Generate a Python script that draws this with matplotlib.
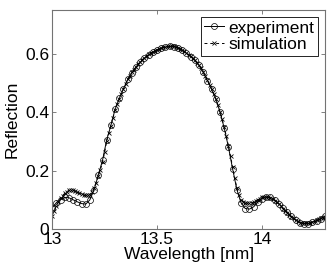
import matplotlib
matplotlib.use('Agg')
import matplotlib.pyplot as plt
import numpy as np

plt.rcParams['font.family'] = ['Liberation Sans', 'DejaVu Sans']

# 実験値 (0.02 nm 刻み)
wl_exp = np.round(np.arange(13.00, 14.301, 0.02), 2)
experiment = [
    0.072, 0.090, 0.100, 0.108, 0.107, 0.100, 0.093, 0.087, 0.085, 0.100,
    0.135, 0.185, 0.235, 0.305, 0.355, 0.410, 0.447, 0.480, 0.512, 0.535,
    0.555, 0.572, 0.586, 0.597, 0.606, 0.613, 0.619, 0.623, 0.625, 0.624,
    0.620, 0.612, 0.602, 0.590, 0.577, 0.560, 0.537, 0.508, 0.478, 0.445,
    0.400, 0.345, 0.280, 0.205, 0.135, 0.090, 0.070, 0.068, 0.076, 0.092,
    0.104, 0.110, 0.108, 0.100, 0.087, 0.072, 0.058, 0.043, 0.030, 0.022,
    0.018, 0.018, 0.023, 0.028, 0.035, 0.044,
]

# シミュレーション (0.01 nm 刻み)
wl_sim = np.round(np.arange(13.00, 14.301, 0.01), 2)
simulation = [
    0.045, 0.062, 0.080, 0.094, 0.105, 0.114, 0.122, 0.128, 0.132, 0.133,
    0.132, 0.130, 0.127, 0.123, 0.120, 0.117, 0.115, 0.115, 0.118, 0.126,
    0.140, 0.158, 0.180, 0.203, 0.228, 0.262, 0.300, 0.328, 0.352, 0.381,
    0.408, 0.428, 0.446, 0.463, 0.480, 0.497, 0.512, 0.525, 0.536, 0.546,
    0.556, 0.565, 0.573, 0.580, 0.587, 0.593, 0.598, 0.603, 0.607, 0.611,
    0.614, 0.617, 0.620, 0.622, 0.624, 0.625, 0.626, 0.626, 0.625, 0.623,
    0.621, 0.617, 0.613, 0.608, 0.603, 0.597, 0.591, 0.585, 0.578, 0.570,
    0.561, 0.550, 0.538, 0.524, 0.509, 0.494, 0.479, 0.463, 0.446, 0.425,
    0.402, 0.376, 0.348, 0.318, 0.285, 0.249, 0.212, 0.175, 0.140, 0.117,
    0.100, 0.093, 0.090, 0.088, 0.088, 0.089, 0.092, 0.096, 0.100, 0.104,
    0.108, 0.110, 0.110, 0.109, 0.106, 0.102, 0.097, 0.091, 0.085, 0.078,
    0.070, 0.063, 0.056, 0.049, 0.042, 0.036, 0.030, 0.026, 0.022, 0.020,
    0.019, 0.019, 0.020, 0.022, 0.024, 0.027, 0.030, 0.033, 0.036, 0.039,
    0.042,
]

fig = plt.figure(figsize=(3.32, 2.70), dpi=100)
ax = fig.add_axes([0.157, 0.152, 0.822, 0.811])

ax.plot(wl_exp, experiment, '-o', color='k', lw=0.7, ms=4.3,
        mfc='none', mew=0.5, label='experiment')
ax.plot(wl_sim, simulation, '--x', color='k', lw=0.7, ms=2.8,
        mew=0.6, dashes=(3, 3), label='simulation')

ax.set_xlim(13, 14.3)
ax.set_ylim(0, 0.75)
ax.set_xticks([13, 13.5, 14])
ax.set_xticklabels(['13', '13.5', '14'])
ax.set_yticks([0, 0.2, 0.4, 0.6])
ax.set_yticklabels(['0', '0.2', '0.4', '0.6'])
ax.tick_params(direction='in', top=True, right=True, labelsize=12.5,
               length=3, width=0.5, color='0.3', pad=2)
for s in ax.spines.values():
    s.set_color('0.45')
    s.set_linewidth(0.8)

ax.set_xlabel('Wavelength [nm]', fontsize=12.5, labelpad=0)
ax.set_ylabel('Reflection', fontsize=12.5, labelpad=4)

leg = ax.legend(loc='upper right', fontsize=12.5, handlelength=1.1,
                handletextpad=0.3, borderpad=0.2, labelspacing=0.1,
                borderaxespad=0.4, fancybox=False, framealpha=1)
leg.get_frame().set_edgecolor('k')
leg.get_frame().set_linewidth(0.6)

plt.savefig('out.png', dpi=100)
